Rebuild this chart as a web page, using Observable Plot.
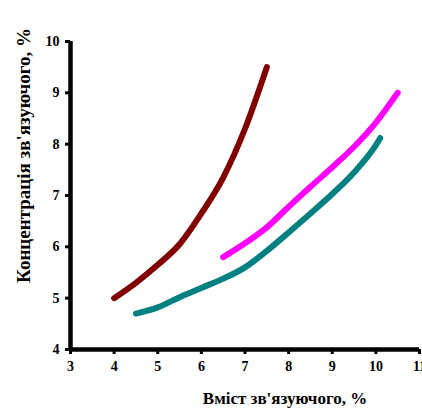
<!DOCTYPE html>
<html><head><meta charset="utf-8">
<script src="https://cdn.jsdelivr.net/npm/d3@7"></script>
<script src="https://cdn.jsdelivr.net/npm/@observablehq/plot@0.6"></script>
<style>
body{margin:0;background:#fff}
#chart svg text{font-family:'Liberation Serif','Times New Roman',serif;font-weight:bold;fill:#000}
</style>
</head><body><div id="chart"></div>
<script>
const xTicks = [3,4,5,6,7,8,9,10,11];
const yTicks = [4,5,6,7,8,9,10];
const redX = [4, 4.5, 5, 5.5, 6, 6.5, 7, 7.5];
const redY = [5.0, 5.3, 5.65, 6.05, 6.65, 7.35, 8.3, 9.5];
const magX = [6.5, 7, 7.5, 8, 8.5, 9, 9.5, 10, 10.5];
const magY = [5.8, 6.07, 6.38, 6.78, 7.17, 7.55, 7.95, 8.42, 9.0];
const tealX = [4.5, 5, 5.5, 6, 6.5, 7, 7.5, 8, 8.5, 9, 9.5, 10, 10.1];
const tealY = [4.7, 4.82, 5.02, 5.2, 5.38, 5.6, 5.92, 6.28, 6.65, 7.03, 7.45, 7.98, 8.12];
const xLabel = "Вміст зв'язуючого, %";
const yLabel = "Концентрація зв'язуючого, %";

const toRows = (xs, ys) => xs.map((x, i) => ({x, y: ys[i]}));
const font = "'Liberation Serif', 'Times New Roman', serif";
const lineOpts = {x: "x", y: "y", strokeWidth: 6, strokeLinecap: "round", strokeLinejoin: "round", curve: "monotone-x"};

const chart = Plot.plot({
  width: 422, height: 414,
  marginLeft: 70, marginRight: 3, marginTop: 41, marginBottom: 65,
  style: {fontFamily: font, fontWeight: "bold", fontSize: "14px", color: "#000", background: "#fff", overflow: "visible"},
  x: {domain: [3, 11]},
  y: {domain: [4, 10]},
  marks: [
    Plot.axisX({ticks: xTicks, tickSize: 5, tickPadding: 7, tickFormat: d => d, stroke: "#000", strokeWidth: 3, strokeOpacity: 1, fontSize: 14, label: null}),
    Plot.axisY({ticks: yTicks, tickSize: 5, tickPadding: 6, tickFormat: d => d, stroke: "#000", strokeWidth: 3, strokeOpacity: 1, fontSize: 14, label: null}),
    Plot.ruleY([4], {stroke: "#000", strokeWidth: 4.5, strokeOpacity: 1}),
    Plot.ruleX([3], {stroke: "#000", strokeWidth: 4.5, strokeOpacity: 1}),
    Plot.line(toRows(redX, redY), {...lineOpts, stroke: "#800000"}),
    Plot.line(toRows(magX, magY), {...lineOpts, stroke: "#ff00ff"}),
    Plot.line(toRows(tealX, tealY), {...lineOpts, stroke: "#008080"}),
    Plot.text([xLabel], {frameAnchor: "bottom", textAnchor: "middle", lineAnchor: "bottom", dx: 40, dy: 54, fontSize: 17, fontWeight: "bold", fill: "#000"}),
    Plot.text([yLabel], {frameAnchor: "left", textAnchor: "middle", lineAnchor: "middle", dx: -47, dy: -40, rotate: -90, fontSize: 19, fontWeight: "bold", fill: "#000"})
  ]
});
document.getElementById("chart").append(chart);
</script>
</body></html>
